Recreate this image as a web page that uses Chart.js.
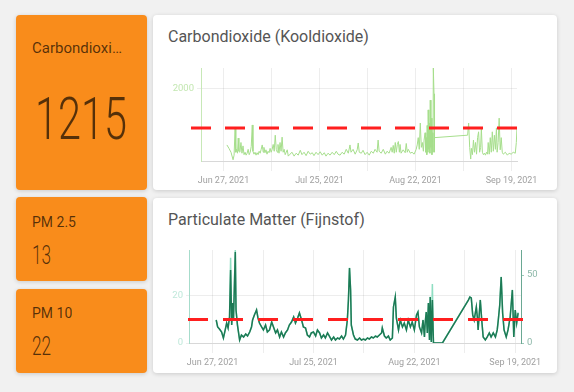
<!DOCTYPE html>
<html><head><meta charset="utf-8">
<script src="https://cdn.jsdelivr.net/npm/chart.js@4/dist/chart.umd.min.js"></script>
<style>
html,body{margin:0;padding:0;}
body{width:574px;height:392px;background:#f1f1f1;position:relative;overflow:hidden;font-family:Roboto,"Noto Sans",sans-serif;}
.card{position:absolute;border-radius:4px;box-shadow:0 1px 4px rgba(0,0,0,0.16);}
.o{background:#f98c1b;}
.w{background:#ffffff;}
.lbl{position:absolute;left:16px;color:rgba(0,0,0,0.66);white-space:nowrap;overflow:hidden;text-overflow:ellipsis;}
.big{position:absolute;left:19px;font-weight:300;color:rgba(0,0,0,0.66);transform-origin:0 0;transform:scaleX(0.69);line-height:1;white-space:nowrap;}
.title{position:absolute;left:15px;top:12px;font-size:16px;line-height:20px;color:#555;white-space:nowrap;}
canvas{position:absolute;left:0;}
</style>
</head><body>

<div class="card o" style="left:16px;top:15px;width:131px;height:175px;">
  <div class="lbl" style="top:24px;font-size:15px;line-height:18px;width:96px;">Carbondioxide</div>
  <div class="big" style="top:74px;font-size:60px;">1215</div>
</div>
<div class="card o" style="left:16px;top:197px;width:131px;height:84px;">
  <div class="lbl" style="top:17px;font-size:14px;line-height:16px;">PM 2.5</div>
  <div class="big" style="left:16px;top:46px;font-size:25px;">13</div>
</div>
<div class="card o" style="left:16px;top:289px;width:131px;height:84px;">
  <div class="lbl" style="top:16px;font-size:14px;line-height:16px;">PM 10</div>
  <div class="big" style="left:16px;top:45px;font-size:25px;">22</div>
</div>

<div class="card w" style="left:153px;top:15px;width:404px;height:175px;">
  <div class="title">Carbondioxide (Kooldioxide)</div>
  <canvas id="co2" width="404" height="135" style="top:40px;width:404px;height:135px;"></canvas>
</div>
<div class="card w" style="left:153px;top:198px;width:404px;height:175px;">
  <div class="title">Particulate Matter (Fijnstof)</div>
  <canvas id="pm" width="404" height="138" style="top:37px;width:404px;height:138px;"></canvas>
</div>

<script>
// x values are days counted from Jun 20, 2021 00:00
const tickDays = [7, 21, 35, 49, 63, 77, 91];
const tickLabels = ['Jun 27, 2021', '', 'Jul 25, 2021', '', 'Aug 22, 2021', '', 'Sep 19, 2021'];
const xMin = 0.45, xMax = 92.6;

const co2Days = [
8.0,8.6,9.2,9.8,10.1,10.4,10.6,10.8,11.1,11.3,
11.5,11.8,12.1,12.4,12.7,13.0,13.3,13.6,13.9,14.2,
14.5,14.8,15.1,15.4,15.6,15.9,16.2,16.5,16.8,17.1,
17.4,17.7,18.0,18.3,18.6,18.8,19.1,19.4,19.7,20.0,
20.3,20.6,20.9,21.2,21.5,21.8,22.1,22.4,22.7,22.9,
23.2,23.5,23.8,24.1,24.4,24.7,25.0,25.3,25.6,25.9,
26.4,27.0,27.6,28.2,28.8,29.4,29.9,30.5,31.1,31.7,
32.3,32.9,33.4,34.0,34.6,35.2,35.8,36.4,36.9,37.5,
38.1,38.7,39.3,39.9,40.4,41.0,41.6,42.2,42.8,43.4,
43.9,44.2,44.8,45.4,46.0,46.3,46.6,47.2,47.7,48.3,
48.9,49.5,50.1,50.7,51.2,51.8,52.1,52.4,53.0,53.6,
54.2,54.7,55.3,55.9,56.2,56.5,56.8,57.1,57.4,57.7,
58.0,58.3,58.5,58.8,59.4,60.0,60.3,60.6,60.9,61.5,
62.0,62.6,63.2,63.5,63.8,64.1,64.4,64.7,65.0,65.3,
65.5,65.8,66.0,66.1,66.3,66.4,66.6,66.7,66.9,67.0,
67.2,67.3,67.5,67.6,67.8,67.9,68.1,68.2,68.4,68.5,
68.6,78.2,78.5,78.8,79.1,79.3,79.6,79.9,80.2,80.5,
80.8,81.1,81.4,81.7,82.0,82.2,82.5,82.8,83.1,83.4,
83.7,84.0,84.2,84.5,84.8,85.1,85.4,85.7,86.0,86.3,
86.6,86.8,87.1,87.4,87.7,88.0,88.3,88.6,89.2,89.8,
90.3,90.9,91.5,92.1,92.4,92.6];
const co2Values = [
850,780,700,545,640,1200,700,760,680,990,
720,700,900,680,830,650,700,640,680,760,
650,700,820,1260,720,660,700,640,690,650,
720,680,760,850,700,800,690,750,660,720,
690,780,700,760,860,720,1050,760,700,860,
680,900,720,1010,700,760,650,700,750,620,
660,700,620,680,640,740,650,700,630,720,
660,690,630,700,650,710,640,690,620,680,
640,700,650,720,660,640,700,660,760,680,
850,700,760,660,750,890,700,680,740,650,
700,640,720,680,760,700,950,720,680,760,
660,720,680,800,700,840,680,900,700,860,
920,700,860,680,750,690,880,700,760,680,
700,660,760,850,1000,760,1300,800,900,720,
950,1100,700,1000,650,1250,700,1570,760,1300,
680,1770,800,1400,650,1100,700,2430,1900,700,
1000,1050,1300,800,560,780,650,950,700,900,
660,1000,1120,700,800,1200,700,650,680,640,
700,660,900,660,1000,700,1120,720,1050,760,
1200,700,900,1400,750,1000,700,660,700,640,
680,660,700,680,900,1215];
const co2Threshold = 1200;

const pmDays = [
8.0,8.4,8.9,9.5,10.0,10.5,10.9,11.3,11.7,12.0,
12.3,12.6,12.8,13.3,13.5,13.9,14.5,15.0,15.6,16.2,
16.7,17.3,17.8,18.1,18.6,19.2,19.6,20.0,20.6,21.1,
21.7,22.2,22.8,23.4,23.9,24.5,25.0,25.6,26.1,26.7,
27.2,27.8,28.3,28.9,29.5,30.0,30.6,31.1,31.7,32.2,
32.8,33.3,33.9,34.4,35.0,35.6,36.1,36.7,37.2,37.8,
38.3,38.9,39.4,40.0,40.6,41.1,41.7,42.2,42.8,43.3,
43.9,44.4,44.7,45.0,45.3,45.5,46.1,46.6,47.2,47.8,
48.3,48.9,49.4,50.0,50.5,51.1,51.6,52.2,52.7,53.3,
53.9,54.1,54.7,55.2,55.8,56.3,56.9,57.2,57.7,58.0,
58.6,59.1,59.7,60.2,60.8,61.3,61.9,62.4,63.0,63.6,
64.0,64.4,65.0,65.4,65.8,66.0,66.3,66.6,66.9,67.2,
67.4,67.7,68.0,68.3,70.8,78.0,78.4,78.8,
79.2,79.6,80.2,80.5,80.7,81.3,81.7,82.1,82.7,83.2,
83.8,84.3,84.9,85.5,86.0,86.3,86.7,87.1,87.5,87.9,
88.5,89.0,89.6,90.2,90.6,91.0,91.4,91.8];
const pm10Values = [
16.9,11.8,10.3,8.1,3.7,9.6,14.7,11.0,19.1,53.7,
13.2,29.4,16.9,66.9,24.3,13.2,2.2,5.9,4.4,6.6,
5.1,8.1,11.8,16.9,20.6,24.3,18.4,14.7,11.8,9.6,
13.2,8.1,9.6,15.4,11.8,7.4,9.6,4.4,8.1,4.4,
7.4,9.6,13.2,15.4,19.1,14.7,18.4,22.1,16.9,11.8,
11.0,5.9,4.4,7.4,8.1,5.1,9.6,7.4,3.7,5.9,
3.7,7.4,5.1,2.2,4.4,2.2,3.7,2.9,5.1,2.9,
5.9,16.9,31.6,55.1,39.0,13.2,5.9,2.9,2.2,3.7,
2.2,2.9,2.2,3.7,2.9,4.4,3.7,5.1,4.4,5.9,
7.4,11.0,5.1,3.7,5.1,2.2,3.7,26.5,33.8,18.4,
9.6,16.9,11.8,14.7,9.6,16.9,11.8,15.4,9.6,20.6,
22.8,11.8,7.4,16.9,4.4,14.7,22.8,7.4,29.4,2.2,
33.8,0.7,31.6,0,0,31.6,33.8,33.1,
20.6,16.9,26.5,18.4,9.6,31.6,16.9,4.4,2.2,4.4,
7.4,4.4,7.4,4.4,9.6,16.9,27.9,48.5,22.1,9.6,
4.4,9.6,19.1,39.0,4.4,24.3,14.7,22.0];
const pm25Values = [
9.8,6.8,6.0,4.7,2.1,5.5,8.5,6.4,11.1,36.2,
7.7,17.0,9.8,39.5,14.0,7.7,1.3,3.4,2.6,3.8,
3.0,4.7,6.8,9.8,11.9,14.0,10.6,8.5,6.8,5.5,
7.7,4.7,5.5,8.9,6.8,4.3,5.5,2.6,4.7,2.6,
4.3,5.5,7.7,8.9,11.1,8.5,10.6,12.8,9.8,6.8,
6.4,3.4,2.6,4.3,4.7,3.0,5.5,4.3,2.1,3.4,
2.1,4.3,3.0,1.3,2.6,1.3,2.1,1.7,3.0,1.7,
3.4,9.8,18.3,31.9,22.6,7.7,3.4,1.7,1.3,2.1,
1.3,1.7,1.3,2.1,1.7,2.6,2.1,3.0,2.6,3.4,
4.3,6.4,3.0,2.1,3.0,1.3,2.1,15.3,19.6,10.6,
5.5,9.8,6.8,8.5,5.5,9.8,6.8,8.9,5.5,11.9,
13.2,6.8,4.3,9.8,2.6,8.5,13.2,4.3,17.0,1.3,
19.6,0.4,25.1,0,0,18.3,19.6,19.1,
11.9,9.8,15.3,10.6,5.5,18.3,9.8,2.6,1.3,2.6,
4.3,2.6,4.3,2.6,5.5,9.8,16.2,28.1,12.8,5.5,
2.6,5.5,11.1,22.6,2.6,14.0,8.5,13.0];
const pmThreshold = 10;

const co2YTicks = [2000];
const pmLeftTicks = [0, 20];
const pmRightTicks = [0, 50];

Chart.defaults.font.family = 'Roboto';

const thresholdLine = {
  id: 'thresholdLine',
  afterDatasetsDraw(chart, args, opts) {
    const y = chart.scales[opts.axis].getPixelForValue(opts.value);
    const a = chart.chartArea, ctx = chart.ctx;
    ctx.save();
    ctx.strokeStyle = opts.color;
    ctx.lineWidth = opts.width;
    ctx.setLineDash(opts.dash);
    ctx.beginPath();
    ctx.moveTo(a.left - opts.extendLeft, y);
    ctx.lineTo(a.right + opts.extendRight, y);
    ctx.stroke();
    ctx.restore();
  }
};

const gridColor = 'rgba(0,0,0,0.07)';
const plainNum = v => String(v);
const xScale = () => ({
  type: 'linear', min: xMin, max: xMax,
  afterBuildTicks: s => { s.ticks = tickDays.map(v => ({ value: v })); },
  afterFit: s => { s.height = 25; },
  ticks: { autoSkip: false, maxRotation: 0, padding: 4, color: '#a0a0a0', font: { size: 9 },
           callback: (v, i) => tickLabels[i] },
  grid: { color: gridColor, tickLength: 10 },
  border: { color: '#d8d8d8' }
});

new Chart(document.getElementById('co2'), {
  type: 'line',
  data: { datasets: [{
    data: co2Days.map((d, i) => ({ x: d, y: co2Values[i] })),
    borderColor: '#a6de8c', borderWidth: 1, pointRadius: 0, tension: 0
  }]},
  plugins: [thresholdLine],
  options: {
    responsive: false, animation: false,
    layout: { padding: { left: 0, right: 40, top: 13, bottom: 4 } },
    plugins: {
      legend: { display: false }, tooltip: { enabled: false },
      thresholdLine: { axis: 'y', value: co2Threshold, color: '#ff1f1f', width: 3, dash: [20, 14], extendLeft: 10, extendRight: 3 }
    },
    scales: {
      x: xScale(),
      y: {
        min: 520, max: 2430,
        afterBuildTicks: s => { s.ticks = co2YTicks.map(v => ({ value: v })); },
        afterFit: s => { s.width = 48; },
        ticks: { color: '#c3e7b1', font: { size: 9.5 }, padding: 3, callback: plainNum },
        grid: { color: gridColor, tickLength: 4 },
        border: { color: '#c7e8b7' }
      }
    }
  }
});

new Chart(document.getElementById('pm'), {
  type: 'line',
  data: { datasets: [
    { label: 'PM 10', yAxisID: 'y1',
      data: pmDays.map((d, i) => ({ x: d, y: pm10Values[i] })),
      borderColor: '#1d7a55', borderWidth: 1.5, pointRadius: 0, tension: 0 },
    { label: 'PM 2.5', yAxisID: 'y',
      data: pmDays.map((d, i) => ({ x: d, y: pm25Values[i] })),
      borderColor: '#8fdec2', borderWidth: 1.5, pointRadius: 0, tension: 0 }
  ]},
  plugins: [thresholdLine],
  options: {
    responsive: false, animation: false,
    layout: { padding: { left: 0, right: 0, top: 15, bottom: 5 } },
    plugins: {
      legend: { display: false }, tooltip: { enabled: false },
      thresholdLine: { axis: 'y', value: pmThreshold, color: '#ff1f1f', width: 3, dash: [20, 15], extendLeft: 1, extendRight: 2 }
    },
    scales: {
      x: xScale(),
      y: {
        position: 'left', min: 0, max: 39.5,
        afterBuildTicks: s => { s.ticks = pmLeftTicks.map(v => ({ value: v })); },
        afterFit: s => { s.width = 36; },
        ticks: { color: '#bfe8da', font: { size: 9.5 }, padding: 3, callback: plainNum },
        grid: { color: gridColor, tickLength: 3 },
        border: { color: '#a6dccb' }
      },
      y1: {
        position: 'right', min: 0, max: 68.4,
        afterBuildTicks: s => { s.ticks = pmRightTicks.map(v => ({ value: v })); },
        afterFit: s => { s.width = 36; },
        ticks: { color: '#8db8a9', font: { size: 9.5 }, padding: 3, callback: plainNum },
        grid: { drawOnChartArea: false, color: '#9cc9b9', tickLength: 3 },
        border: { color: '#6aa893' }
      }
    }
  }
});
</script>
</body></html>
